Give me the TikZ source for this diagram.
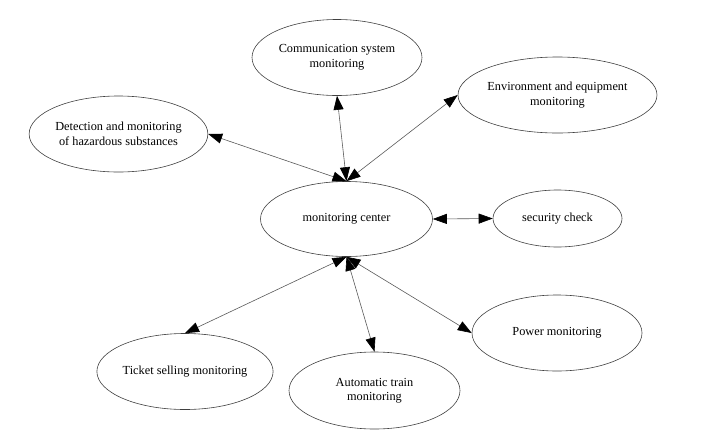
\documentclass[tikz,border=0pt]{standalone}
\usepackage{fontspec}
\setmainfont{Liberation Serif}
\usetikzlibrary{shapes.geometric,arrows.meta}

\begin{document}
\begin{tikzpicture}[x=1pt,y=-1pt,
  unit/.style={draw=black!75,line width=0.6pt,ellipse,inner sep=0pt,minimum width=170pt,minimum height=76pt,align=center,font=\fontsize{12.3}{14.5}\selectfont},
  link/.style={draw=black!65,line width=0.6pt,{Triangle[length=14pt,width=10pt,color=black]}-{Triangle[length=14pt,width=10pt,color=black]}}]
\useasboundingbox (0,0) rectangle (710,437);
\node[unit] (comm) at (337,57.5) {Communication system\\monitoring};
\node[unit,minimum width=199pt] (env) at (557.5,95) {Environment and equipment\\monitoring};
\node[unit,minimum width=171pt] (hazard) at (118.5,134) {Detection and monitoring\\of hazardous substances};
\node[unit,minimum width=172pt,minimum height=75pt] (center) at (346.5,219) {monitoring center};
\node[unit,minimum width=129pt,minimum height=57pt] (check) at (557.5,218.5) {security check};
\node[unit] (power) at (557,333) {Power monitoring};
\node[unit] (ticket) at (185,371.5) {Ticket selling monitoring};
\node[unit,minimum width=171pt,minimum height=77pt] (train) at (374.5,390.5) {Automatic train\\monitoring};
\draw[link] (center.north) -- (hazard.east);
\draw[link] (center.north) -- (comm.south);
\draw[link] (center.north) -- (env.west);
\draw[link] (center.east) -- (check.west);
\draw[link] (center.south) -- (ticket.north);
\draw[link] (center.south) -- (train.north);
\draw[link] (center.south) -- (power.west);
\end{tikzpicture}
\end{document}
